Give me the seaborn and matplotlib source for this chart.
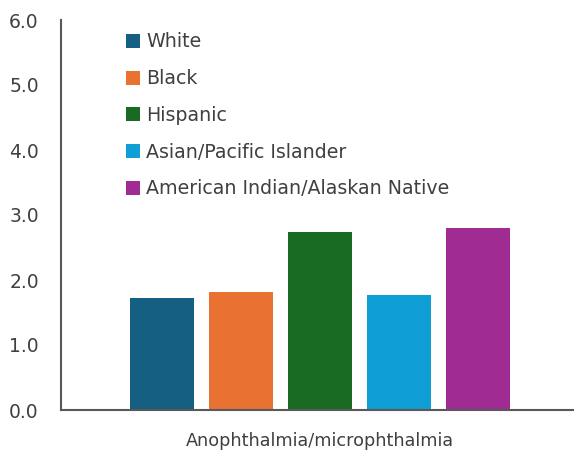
import pandas as pd
import matplotlib
matplotlib.use("Agg")
import matplotlib.pyplot as plt
import seaborn as sns

# Data
condition = ["Anophthalmia/microphthalmia"]
groups = ["White", "Black", "Hispanic", "Asian/Pacific Islander",
          "American Indian/Alaskan Native"]
values = [1.72, 1.81, 2.74, 1.77, 2.80]
colors = ["#156082", "#E97132", "#196B24", "#0F9ED5", "#A02B93"]

df = pd.DataFrame({
    "Condition": condition * len(groups),
    "Group": groups,
    "Rate": values,
})

sns.set_theme(style="white")
plt.rcParams["font.family"] = ["DejaVu Sans"]
text_color = "#404040"

fig = plt.figure(figsize=(5.74, 4.54), dpi=100)
ax = fig.add_axes([61 / 574, 1 - 410 / 454, 513 / 574, 390 / 454])

sns.barplot(data=df, x="Condition", y="Rate", hue="Group",
            palette=colors, width=0.77, gap=0.2, saturation=1,
            linewidth=0, ax=ax)

ax.set_ylim(0, 6)
ax.set_yticks([0, 1, 2, 3, 4, 5, 6])
ax.set_yticklabels([f"{v:.1f}" for v in [0, 1, 2, 3, 4, 5, 6]])
ax.set_xlim(-0.505, 0.495)
ax.set_xlabel("")
ax.set_ylabel("")

for side in ["top", "right"]:
    ax.spines[side].set_visible(False)
for side in ["left", "bottom"]:
    ax.spines[side].set_color("#595959")
    ax.spines[side].set_linewidth(1.5)

ax.tick_params(axis="y", length=0, pad=16, labelsize=13.5, labelcolor=text_color)
ax.tick_params(axis="x", length=0, pad=16, labelsize=12.7, labelcolor=text_color)

ax.legend(loc="upper left", bbox_to_anchor=(0.127, 0.968), frameon=False,
          fontsize=13.7, handlelength=0.75, handleheight=0.75,
          handletextpad=0.3, labelspacing=0.93, borderaxespad=0, borderpad=0,
          labelcolor=text_color)

fig.savefig("out.png", dpi=100)
